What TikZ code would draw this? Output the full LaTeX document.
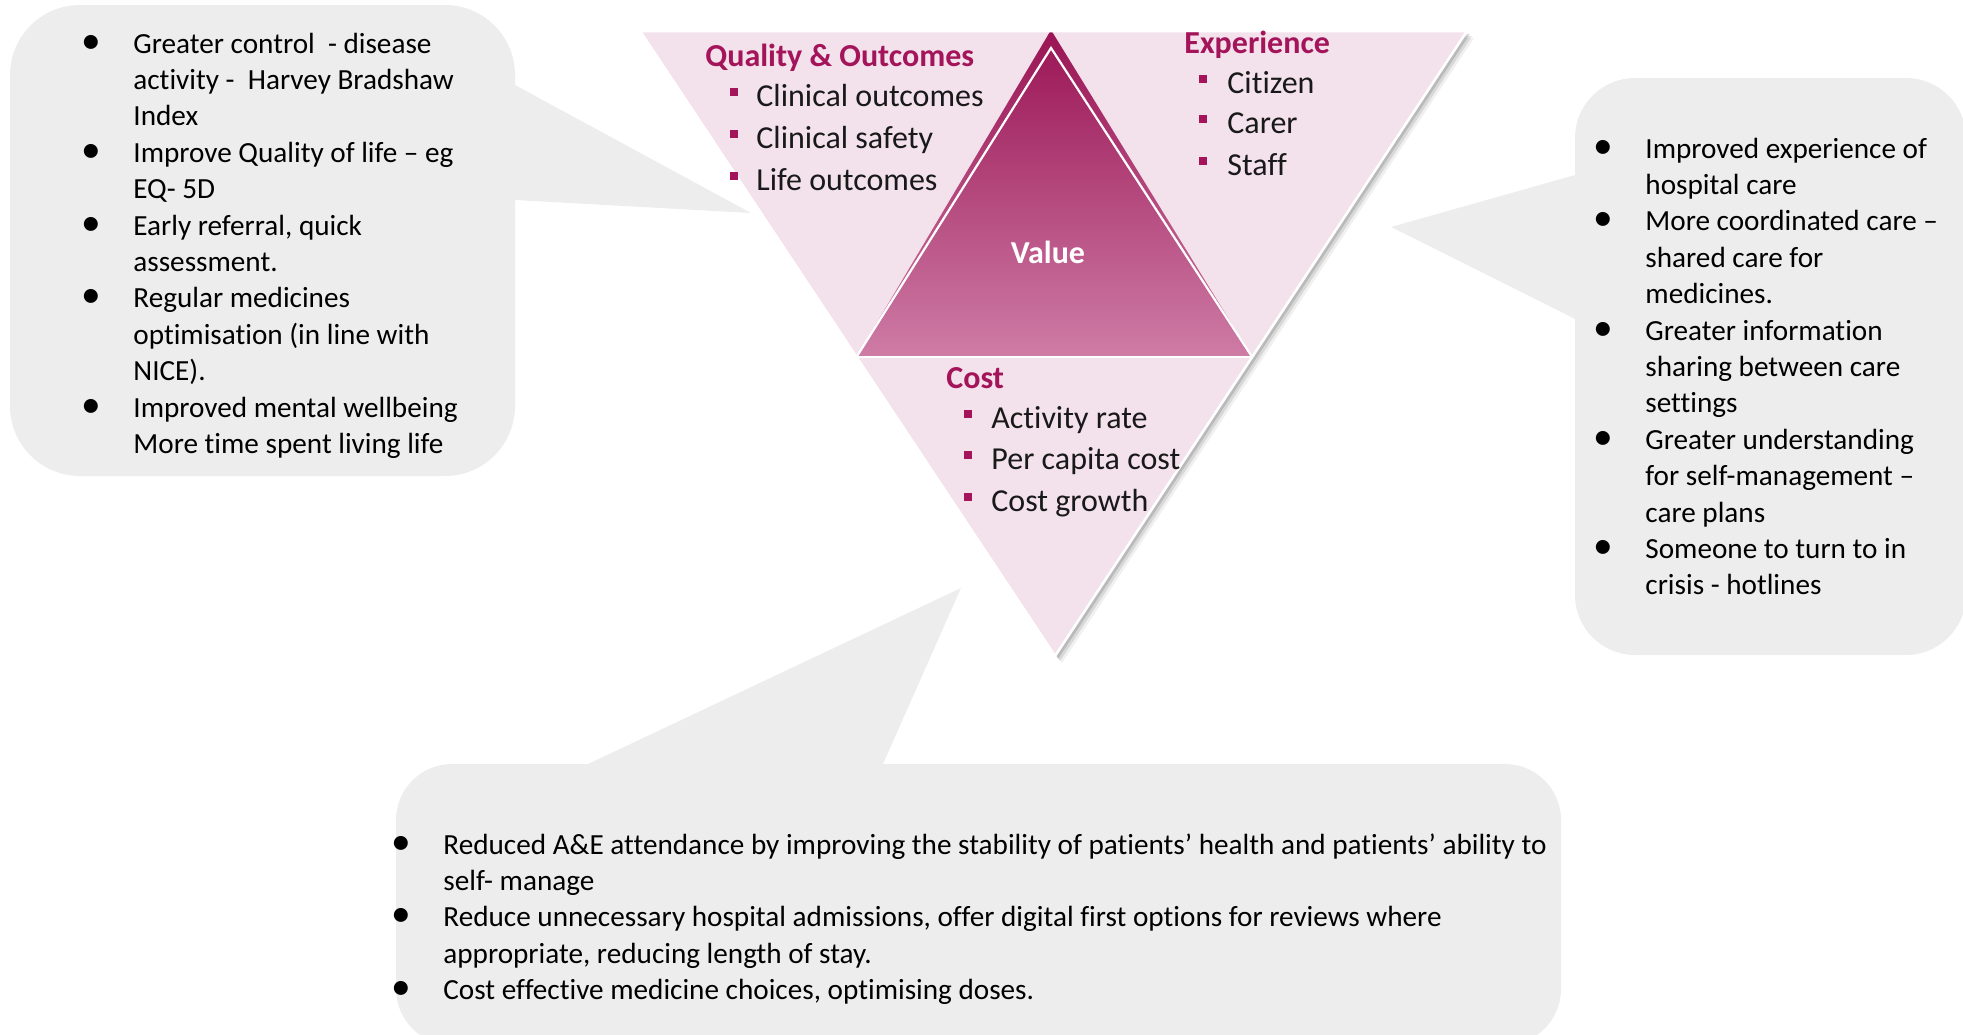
\documentclass[tikz,border=0pt]{standalone}
\usepackage{fontspec}
\setmainfont{Carlito}[Ligatures={NoCommon}]
\usetikzlibrary{calc}
\definecolor{bubblegray}{RGB}{237,237,237}
\definecolor{pinkbg}{RGB}{243,226,235}
\definecolor{plum}{RGB}{163,20,90}
\definecolor{valtop}{RGB}{154,20,84}
\definecolor{valbot}{RGB}{206,124,166}
\newcommand\bitem{\makebox[10pt][c]{\scalebox{1.35}{\textbullet}}}
\tikzset{
  bubble/.style={fill=bubblegray},
  btext/.style={inner sep=0pt, anchor=base west, font=\fontsize{14.6}{18.2}\selectfont},
  ttext/.style={inner sep=0pt, anchor=base west, font=\fontsize{16}{20}\selectfont, text=black!90},
  thead/.style={inner sep=0pt, anchor=base west, font=\bfseries\fontsize{16}{20}\selectfont, text=plum},
  sqbul/.style={rectangle, fill=plum, inner sep=0pt, minimum size=4pt},
}
\begin{document}
\begin{tikzpicture}[x=0.5pt,y=-0.5pt]
\useasboundingbox (0,0) rectangle (1963,1034);
\clip (0,0) rectangle (1963,1034);

% ---------- callout bubbles ----------
% left
\fill[bubble, rounded corners=35pt] (10,5) rectangle (515,476);
\fill[bubble] (505,85) -- (515,85) -- (751,213) -- (515,200) -- (505,200) -- cycle;
% right
\fill[bubble, rounded corners=30pt] (1575,78) rectangle (1966,655);
\fill[bubble] (1585,175) -- (1575,175) -- (1391,227) -- (1575,319) -- (1585,319) -- cycle;
% bottom
\fill[bubble, rounded corners=28pt] (396,764) rectangle (1561,1045);
\fill[bubble] (588,774) -- (588,764) -- (961,588) -- (883,764) -- (883,774) -- cycle;

% ---------- triangle ----------
\coordinate (TL) at (640,31);
\coordinate (TR) at (1467,31);
\coordinate (BT) at (1055,656);
\coordinate (VA) at (1051,30);
\coordinate (VI) at (1051,48);
\coordinate (VL) at ($(TL)!0.5216!(BT)$);
\coordinate (VR) at ($(TR)!0.5216!(BT)$);

% soft shadow
\fill[black, opacity=0.06] ([shift={(7,7)}]TL) -- ([shift={(7,7)}]TR) -- ([shift={(7,7)}]BT) -- cycle;
\fill[black, opacity=0.10] ([shift={(5,5)}]TL) -- ([shift={(5,5)}]TR) -- ([shift={(5,5)}]BT) -- cycle;
\fill[black, opacity=0.14] ([shift={(3,3)}]TL) -- ([shift={(3,3)}]TR) -- ([shift={(3,3)}]BT) -- cycle;

\fill[pinkbg] (TL) -- (TR) -- (BT) -- cycle;
\shade[top color=valtop, bottom color=valbot] (VA) -- (VR) -- (VL) -- cycle;
\draw[white, line width=1.1pt, line join=miter] (VL) -- (VI) -- (VR);
\draw[white, line width=1.1pt] (VL) -- (VR);
\draw[white, line width=1.3pt, line join=miter] (TL) -- (TR) -- (BT) -- cycle;

% ---------- triangle texts ----------
\node[thead] (qo) at (705,66) {Quality \& Outcomes};
\node[sqbul] (qb1) at (734,92) {};
\node[sqbul] (qb2) at (734,134) {};
\node[sqbul] (qb3) at (734,176) {};
\node[ttext] (q1) at (756,106) {Clinical outcomes};
\node[ttext] (q2) at (756,148) {Clinical safety};
\node[ttext] (q3) at (756,190) {Life outcomes};

\node[thead] (ex) at (1184,53) {Experience};
\node[sqbul] (eb1) at (1203,79) {};
\node[sqbul] (eb2) at (1203,119) {};
\node[sqbul] (eb3) at (1203,161) {};
\node[ttext] (e1) at (1227,93) {Citizen};
\node[ttext] (e2) at (1227,133) {Carer};
\node[ttext] (e3) at (1227,175) {Staff};

\node[inner sep=0pt, font=\bfseries\fontsize{16}{20}\selectfont, text=white] (val) at (1048,252) {Value};

\node[thead] (co) at (946,388) {Cost};
\node[sqbul] (cb1) at (968,414) {};
\node[sqbul] (cb2) at (968,455) {};
\node[sqbul] (cb3) at (968,497) {};
\node[ttext] (c1) at (991,428) {Activity rate};
\node[ttext] (c2) at (991,469) {Per capita cost};
\node[ttext] (c3) at (991,511) {Cost growth};

% ---------- bubble texts ----------
\node[btext] (lefttext) at (81,53) {\begin{tabular}[t]{@{}l@{\hspace{16pt}}l@{}}
\bitem & Greater control\ \ - disease\\
 & activity -\ \ Harvey Bradshaw\\
 & Index\\
\bitem & Improve Quality of life – eg\\
 & EQ- 5D\\
\bitem & Early referral, quick\\
 & assessment.\\
\bitem & Regular medicines\\
 & optimisation (in line with\\
 & NICE).\\
\bitem & Improved mental wellbeing\\
 & More time spent living life
\end{tabular}};

\node[btext] (righttext) at (1593,158) {\begin{tabular}[t]{@{}l@{\hspace{16pt}}l@{}}
\bitem & Improved experience of\\
 & hospital care\\
\bitem & More coordinated care –\\
 & shared care for\\
 & medicines.\\
\bitem & Greater information\\
 & sharing between care\\
 & settings\\
\bitem & Greater understanding\\
 & for self-management –\\
 & care plans\\
\bitem & Someone to turn to in\\
 & crisis - hotlines
\end{tabular}};

\node[btext] (bottomtext) at (391,854) {\begin{tabular}[t]{@{}l@{\hspace{16pt}}l@{}}
\bitem & Reduced A\&E attendance by improving the stability of patients’ health and patients’ ability to\\
 & self- manage\\
\bitem & Reduce unnecessary hospital admissions, offer digital first options for reviews where\\
 & appropriate, reducing length of stay.\\
\bitem & Cost effective medicine choices, optimising doses.
\end{tabular}};
\end{tikzpicture}
\end{document}
